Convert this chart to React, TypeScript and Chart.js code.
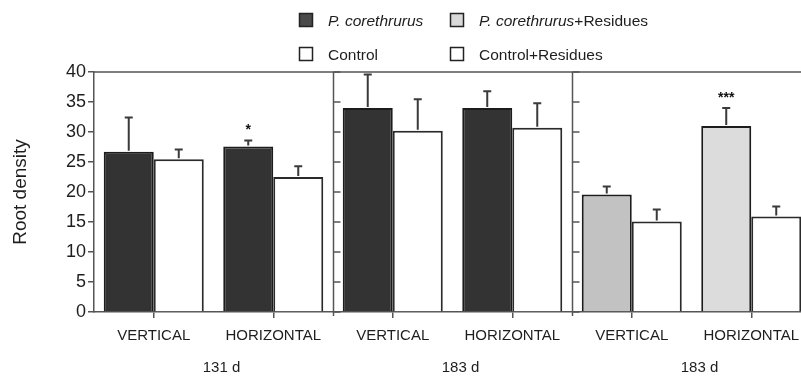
import React, { useEffect, useRef } from 'react';
import { Chart, registerables } from 'chart.js';

Chart.register(...registerables);

const categories = ['VERTICAL', 'HORIZONTAL', 'VERTICAL', 'HORIZONTAL', 'VERTICAL', 'HORIZONTAL'];
const groupLabels = ['131 d', '183 d', '183 d'];
const treatmentValues = [26.7, 27.6, 34.0, 34.0, 19.6, 31.0];
const treatmentErrors = [5.7, 1.0, 5.6, 2.8, 1.3, 3.0];
const controlValues = [25.45, 22.5, 30.2, 30.7, 15.1, 15.9];
const controlErrors = [1.65, 1.8, 5.25, 4.1, 2.0, 1.7];
const significance = ['', '*', '', '', '', '***'];
const treatmentColors = ['#333333', '#333333', '#333333', '#333333', '#c2c2c2', '#dcdcdc'];
const controlColors = ['#ffffff', '#ffffff', '#ffffff', '#ffffff', '#ffffff', '#ffffff'];
const legendItalic = ['P. corethrurus', 'P. corethrurus', '', ''];
const legendPlain = ['', '+Residues', 'Control', 'Control+Residues'];
const legendColors = ['#4a4a4a', '#d9d9d9', '#ffffff', '#ffffff'];

const FONT = '"Liberation Sans", Arial, Helvetica, sans-serif';
const TEXT = '#1e1e1e';
const LINE = '#555555';

const decorPlugin = {
  id: 'decor',
  afterDatasetsDraw(chart: any) {
    const ctx = chart.ctx;
    const { left, right, top, bottom } = chart.chartArea;
    const xs = chart.scales.x;
    const ys = chart.scales.y;
    ctx.save();

    // error bars
    const sets: [number[], number[]][] = [
      [treatmentValues, treatmentErrors],
      [controlValues, controlErrors],
    ];
    sets.forEach(([vals, errs], di) => {
      const meta = chart.getDatasetMeta(di);
      meta.data.forEach((bar: any, i: number) => {
        const yb = ys.getPixelForValue(vals[i]);
        const yt = ys.getPixelForValue(vals[i] + errs[i]);
        ctx.strokeStyle = '#3a3a3a';
        ctx.lineWidth = 2;
        ctx.beginPath();
        ctx.moveTo(bar.x, yb - 1);
        ctx.lineTo(bar.x, yt);
        ctx.moveTo(bar.x - 4, yt);
        ctx.lineTo(bar.x + 4, yt);
        ctx.stroke();
        if (di === 0 && significance[i]) {
          ctx.fillStyle = '#111';
          ctx.font = `bold 14px ${FONT}`;
          ctx.textAlign = 'center';
          ctx.textBaseline = 'alphabetic';
          ctx.fillText(significance[i], bar.x, yt - 6);
        }
      });
    });

    // top border
    ctx.strokeStyle = LINE;
    ctx.lineWidth = 1.5;
    ctx.beginPath();
    ctx.moveTo(left, top);
    ctx.lineTo(right, top);
    ctx.stroke();

    // panel dividers with ticks
    [1.5, 3.5].forEach((v) => {
      const px = Math.round(xs.getPixelForValue(v)) + 0.5;
      ctx.beginPath();
      ctx.moveTo(px, top);
      ctx.lineTo(px, bottom + 4);
      ctx.stroke();
      ys.ticks.forEach((t: any) => {
        const py = ys.getPixelForValue(t.value);
        ctx.beginPath();
        ctx.moveTo(px, py);
        ctx.lineTo(px + 7, py);
        ctx.stroke();
      });
    });

    // group labels
    ctx.fillStyle = TEXT;
    ctx.font = `15px ${FONT}`;
    ctx.textAlign = 'center';
    ctx.textBaseline = 'alphabetic';
    groupLabels.forEach((lab, g) => {
      const cx = (xs.getPixelForValue(2 * g) + xs.getPixelForValue(2 * g + 1)) / 2 + 8;
      ctx.fillText(lab, cx, chart.height - 4);
    });

    // legend
    const colX = [299, 450];
    const rowY = [13, 47];
    legendItalic.forEach((it, k) => {
      const bx = colX[k % 2];
      const by = rowY[Math.floor(k / 2)];
      ctx.fillStyle = legendColors[k];
      ctx.fillRect(bx, by, 14, 14);
      ctx.strokeStyle = '#222';
      ctx.lineWidth = 1.5;
      ctx.strokeRect(bx + 0.5, by + 0.5, 13, 13);
      let tx = bx + 29;
      const base = by + 12.5;
      ctx.fillStyle = TEXT;
      ctx.textAlign = 'left';
      if (it) {
        ctx.font = `italic 15.5px ${FONT}`;
        ctx.fillText(it, tx, base);
        tx += ctx.measureText(it).width;
      }
      if (legendPlain[k]) {
        ctx.font = `15.5px ${FONT}`;
        ctx.fillText(legendPlain[k], tx, base);
      }
    });

    ctx.restore();
  },
};

export default function App() {
  const ref = useRef<HTMLCanvasElement | null>(null);

  useEffect(() => {
    if (!ref.current) return;
    const chart = new Chart(ref.current, {
      type: 'bar',
      data: {
        labels: categories,
        datasets: [
          {
            label: 'P. corethrurus',
            data: treatmentValues,
            backgroundColor: treatmentColors,
            borderColor: '#1c1c1c',
            borderWidth: 2,
            categoryPercentage: 0.837,
            barPercentage: 1.0,
          },
          {
            label: 'Control',
            data: controlValues,
            backgroundColor: controlColors,
            borderColor: '#2a2a2a',
            borderWidth: 2,
            categoryPercentage: 0.837,
            barPercentage: 1.0,
          },
        ],
      },
      options: {
        responsive: false,
        animation: false,
        devicePixelRatio: 1,
        layout: { padding: { top: 72, left: 0, right: 9, bottom: 0 } },
        plugins: { legend: { display: false }, tooltip: { enabled: false }, title: { display: false } },
        scales: {
          x: {
            type: 'category',
            offset: true,
            grid: { display: true, drawOnChartArea: false, offset: false, tickLength: 6, color: LINE, lineWidth: 1.5 },
            border: { display: true, color: LINE, width: 1.5 },
            ticks: { color: TEXT, font: { family: FONT, size: 15 }, padding: 9, maxRotation: 0, autoSkip: false },
            afterFit: (s: any) => { s.height = 64; },
          },
          y: {
            min: 0,
            max: 40,
            grid: { display: true, drawOnChartArea: false, tickLength: 6, color: LINE, lineWidth: 1.5 },
            border: { display: true, color: LINE, width: 1.5 },
            ticks: { stepSize: 5, color: TEXT, font: { family: FONT, size: 18 }, padding: 2 },
            title: { display: true, text: 'Root density', color: TEXT, font: { family: FONT, size: 19 }, padding: { top: 9, bottom: 0 } },
            afterFit: (s: any) => { s.width = 94; },
          },
        },
      },
      plugins: [decorPlugin],
    });
    return () => chart.destroy();
  }, []);

  return (
    <div style={{ position: 'fixed', left: 0, top: 0, width: 801, height: 376, overflow: 'hidden', background: '#fff' }}>
      <canvas ref={ref} width={820} height={376} style={{ display: 'block', width: 820, height: 376 }} />
    </div>
  );
}
